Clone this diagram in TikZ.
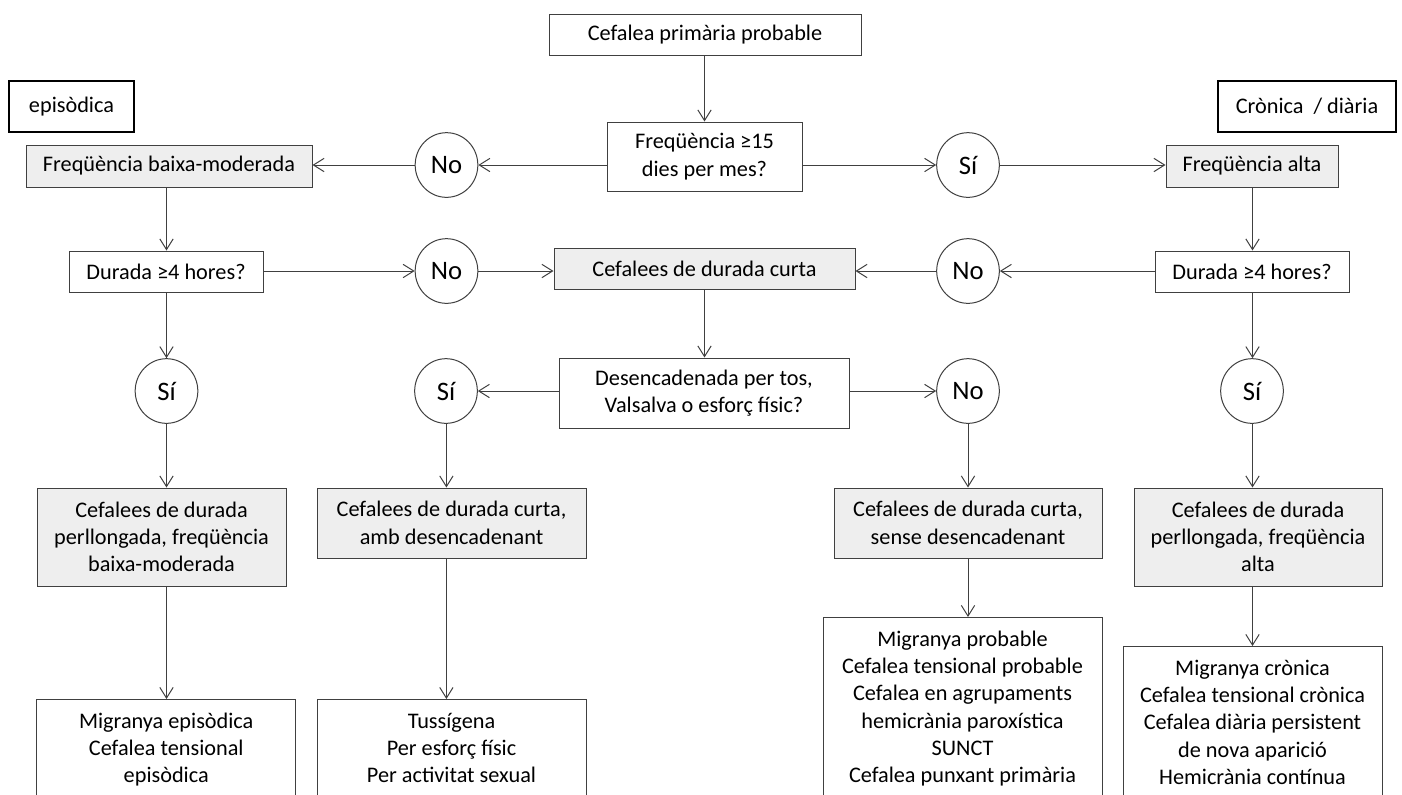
\documentclass[tikz,border=0pt]{standalone}
\usepackage{fontspec}
\setmainfont{Carlito}
\usetikzlibrary{shapes.geometric,arrows.meta}
\definecolor{boxgray}{RGB}{238,238,238}
\definecolor{linegray}{RGB}{64,64,64}

\begin{document}
\begin{tikzpicture}[x=0.75pt,y=-0.75pt,
	every node/.style={font=\fontsize{16.7}{20.5}\selectfont},
	askbox/.style={rectangle,draw=linegray,line width=0.75pt,fill=white,align=center,inner sep=2pt},
	graybox/.style={askbox,fill=boxgray},
	tagbox/.style={rectangle,draw=black,line width=1.5pt,align=center},
	answer/.style={ellipse,draw=linegray,line width=0.75pt,fill=white,minimum width=47pt,minimum height=48.5pt,inner sep=0pt,font=\fontsize{20}{24}\selectfont},
	listbox/.style={askbox,anchor=north,inner ysep=10pt},
	arr/.style={draw=linegray,line width=0.75pt,-{Straight Barb[length=8pt,width=10pt]}}]
	\useasboundingbox (0,0) rectangle (1402,794);
	\clip (0,0) rectangle (1402,794);

	% top of the tree
	\node[askbox,minimum width=234pt,minimum height=30.75pt] (start) at (705,34.5) {Cefalea primària probable};
	\node[tagbox,minimum width=93.75pt,minimum height=38.25pt] (episodica) at (71.5,106.5) {episòdica};
	\node[tagbox,minimum width=133.5pt,minimum height=38.25pt] (cronica) at (1307,106.5) {Crònica\ \ / diària};
	\node[askbox,minimum width=146.25pt,minimum height=51.75pt] (freq) at (704.5,156.5) {Freqüència ≥15\\dies per mes?};
	\node[answer] (no1) at (446.5,165) {No};
	\node[answer] (si1) at (968,165) {Sí};
	\node[graybox,minimum width=214.5pt,minimum height=31.5pt] (baixa) at (169,166) {Freqüència baixa-moderada};
	\node[graybox,minimum width=129pt,minimum height=31.5pt] (alta) at (1252,166) {Freqüència alta};

	% duration
	\node[askbox,minimum width=145.5pt,minimum height=30.75pt] (duradaL) at (166,271.5) {Durada ≥4 hores?};
	\node[askbox,minimum width=145.5pt,minimum height=30.75pt] (duradaR) at (1252,271.5) {Durada ≥4 hores?};
	\node[answer] (no2) at (446.5,271) {No};
	\node[answer] (no3) at (968,271) {No};
	\node[graybox,minimum width=225.75pt,minimum height=30.75pt] (curta) at (704.5,268.5) {Cefalees de durada curta};
	\node[askbox,minimum width=217.5pt,minimum height=52.5pt] (desenc) at (704,393) {Desencadenada per tos,\\Valsalva o esforç físic?};
	\node[answer] (siL) at (166.5,391) {Sí};
	\node[answer] (siM) at (446,391) {Sí};
	\node[answer] (noM) at (968,391) {No};
	\node[answer] (siR) at (1252,391) {Sí};

	% groups
	\node[graybox,minimum width=186.75pt,minimum height=73.5pt] (perllL) at (161.5,537) {Cefalees de durada\\perllongada, freqüència\\baixa-moderada};
	\node[graybox,minimum width=201.75pt,minimum height=52.5pt] (amb) at (451.5,523) {Cefalees de durada curta,\\amb desencadenant};
	\node[graybox,minimum width=201pt,minimum height=52.5pt] (sense) at (968,523) {Cefalees de durada curta,\\sense desencadenant};
	\node[graybox,minimum width=186pt,minimum height=73.5pt] (perllR) at (1258,537) {Cefalees de durada\\perllongada, freqüència\\alta};

	% diagnoses
	\node[listbox,minimum width=194pt] (episList) at (166.25,699) {Migranya episòdica\\Cefalea tensional\\episòdica};
	\node[listbox,minimum width=201.75pt] (tussList) at (451.5,699) {Tussígena\\Per esforç físic\\Per activitat sexual};
	\node[listbox,minimum width=209.25pt] (probList) at (962.5,617) {Migranya probable\\Cefalea tensional probable\\Cefalea en agrupaments\\hemicrània paroxística\\SUNCT\\Cefalea punxant primària};
	\node[listbox,minimum width=194.25pt] (cronList) at (1252.5,646) {Migranya crònica\\Cefalea tensional crònica\\Cefalea diària persistent\\de nova aparició\\Hemicrània contínua};

	\foreach \a/\b/\x in {start/freq/704.5,baixa/duradaL/166.5,duradaL/siL/166.5,siL/perllL/166.5,perllL/episList/166.5,curta/desenc/704.5,siM/amb/446.4,amb/tussList/446.4,noM/sense/968,sense/probList/968,alta/duradaR/1252.5,duradaR/siR/1252.5,siR/perllR/1252.5,perllR/cronList/1252.5}
		\draw[arr] (\a.south -| \x,0) -- (\b.north -| \x,0);
	\foreach \a/\s/\b in {freq/west/no1,freq/east/si1,duradaL/east/no2,duradaR/west/no3,desenc/west/siM,desenc/east/noM}
		\draw[arr] (\a.\s |- \b) -- (\b);
	\foreach \a/\b/\s in {no1/baixa/east,si1/alta/west,no2/curta/west,no3/curta/east}
		\draw[arr] (\a) -- (\a -| \b.\s);
\end{tikzpicture}
\end{document}
